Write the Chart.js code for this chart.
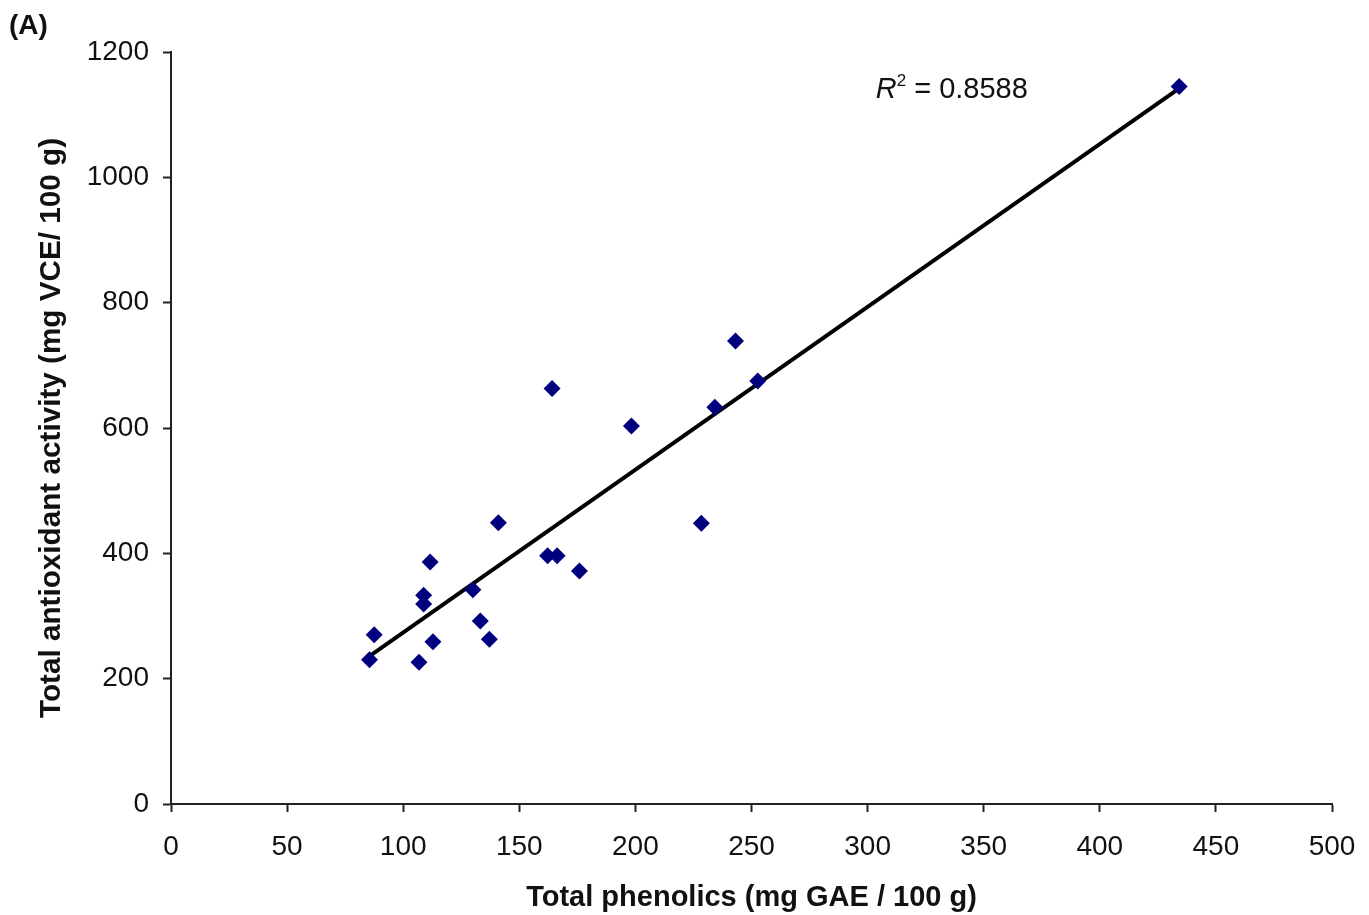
<!DOCTYPE html>
<html>
<head>
<meta charset="utf-8">
<script src="https://cdn.jsdelivr.net/npm/chart.js@4/dist/chart.umd.min.js"></script>
<style>
  body { margin: 0; background: #fff; }
  canvas { display: block; }
</style>
</head>
<body>
<canvas id="chart" width="1369" height="915"></canvas>
<script>
// values
const phenolics = [85.5, 87.5, 106.8, 108.8, 108.8, 111.6, 112.8, 130.0, 133.2, 137.1, 141.0,
  162.2, 166.3, 175.9, 164.1, 198.3, 228.4, 234.2, 243.1, 252.7, 434.2];
const antioxidant = [230, 270, 226, 333, 319, 386, 259, 342, 292, 263, 449,
  396, 396, 372, 663, 603, 448, 633, 739, 675, 1145];
const trendX = [85.5, 434.2];
const trendY = [236, 1142];
const xTicks = [0, 50, 100, 150, 200, 250, 300, 350, 400, 450, 500];
const yTicks = [0, 200, 400, 600, 800, 1000, 1200];
const rSquared = '0.8588';

const points = phenolics.map((x, i) => ({ x: x, y: antioxidant[i] }));
const trend = trendX.map((x, i) => ({ x: x, y: trendY[i] }));

const font = 'Liberation Sans, Arial, sans-serif';

const extraText = {
  id: 'extraText',
  afterDraw(chart) {
    const ctx = chart.ctx;
    const xs = chart.scales.x;
    const ys = chart.scales.y;
    ctx.save();
    ctx.fillStyle = '#111';
    ctx.textBaseline = 'alphabetic';
    // panel label
    ctx.font = 'bold 28px ' + font;
    ctx.fillText('(A)', 9, 34);
    // R squared
    let px = xs.getPixelForValue(303.5);
    const py = ys.getPixelForValue(1127);
    ctx.font = 'italic 29px ' + font;
    ctx.fillText('R', px, py);
    px += ctx.measureText('R').width;
    ctx.font = '17px ' + font;
    ctx.fillText('2', px, py - 12);
    px += ctx.measureText('2').width;
    ctx.font = '29px ' + font;
    ctx.fillText(' = ' + rSquared, px, py);
    ctx.restore();
  }
};

const config = {
  type: 'scatter',
  data: {
    datasets: [
      {
        label: 'Trend',
        type: 'line',
        data: trend,
        borderColor: '#000',
        borderWidth: 4,
        pointRadius: 0,
        fill: false,
        order: 2,
      },
      {
        label: 'Samples',
        data: points,
        pointStyle: 'rectRot',
        pointRadius: 8.5,
        backgroundColor: '#00007f',
        borderColor: '#00007f',
        borderWidth: 0,
        order: 1,
      },
    ],
  },
  options: {
    responsive: false,
    animation: false,
    layout: { padding: { top: 52, right: 37, bottom: 0, left: 0 } },
    plugins: {
      legend: { display: false },
      tooltip: { enabled: false },
    },
    scales: {
      x: {
        type: 'linear',
        min: 0,
        max: 500,
        afterBuildTicks: (s) => { s.ticks = xTicks.map(v => ({ value: v })); },
        afterFit: (s) => { s.height = 111; s.paddingRight = 0; },
        grid: { drawOnChartArea: false, drawTicks: true, tickLength: 8, tickColor: '#222', tickWidth: 2 },
        border: { display: true, color: '#222', width: 2 },
        ticks: { color: '#111', font: { family: font, size: 28 }, padding: 18, maxRotation: 0, callback: (v) => String(v) },
        title: {
          display: true,
          text: 'Total phenolics (mg GAE / 100 g)',
          color: '#111',
          font: { family: font, size: 29, weight: 'bold' },
          padding: { top: 0, bottom: 0 },
        },
      },
      y: {
        type: 'linear',
        min: 0,
        max: 1200,
        afterBuildTicks: (s) => { s.ticks = yTicks.map(v => ({ value: v })); },
        afterFit: (s) => { s.width = 171; },
        grid: { drawOnChartArea: false, drawTicks: true, tickLength: 8, tickColor: '#222', tickWidth: 2 },
        border: { display: true, color: '#222', width: 2 },
        ticks: { color: '#111', font: { family: font, size: 28 }, padding: 14, callback: (v) => String(v) },
        title: {
          display: true,
          text: 'Total antioxidant activity (mg VCE/ 100 g)',
          color: '#111',
          font: { family: font, size: 29.7, weight: 'bold' },
          padding: { top: 34, bottom: 0 },
        },
      },
    },
  },
  plugins: [extraText, {
    id: 'whiteBg',
    beforeDraw(chart) {
      const c = chart.ctx;
      c.save();
      c.fillStyle = '#fff';
      c.fillRect(0, 0, chart.width, chart.height);
      c.restore();
    }
  }],
};

const myChart = new Chart(document.getElementById('chart'), config);
</script>
</body>
</html>
